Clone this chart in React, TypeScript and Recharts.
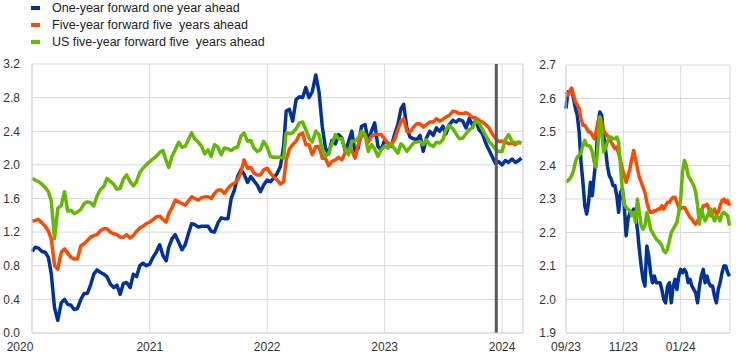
import React from 'react';
import { CartesianGrid, Line, LineChart, ReferenceLine, XAxis, YAxis } from 'recharts';

const DAY = 86400000;
const FONT = '"Liberation Sans", Arial, sans-serif';

// left panel: observations on the 1st, 11th and 21st of every month, Jan 2020 - Mar 2024
const leftDates: number[] = [];
for (let y = 2020; y <= 2024; y++) {
  for (let m = 0; m < 12; m++) {
    for (const d of [1, 11, 21]) {
      const t = Date.UTC(y, m, d);
      if (t <= Date.UTC(2024, 2, 1)) leftDates.push(t);
    }
  }
}

const oneYearLeft = [
  0.97, 1.02, 1.01, 0.97, 0.96, 0.9, 0.7, 0.3, 0.15, 0.36,
  0.4, 0.34, 0.33, 0.28, 0.29, 0.4, 0.47, 0.47, 0.57, 0.7,
  0.75, 0.72, 0.7, 0.67, 0.58, 0.54, 0.57, 0.46, 0.59, 0.6,
  0.54, 0.7, 0.67, 0.8, 0.83, 0.8, 0.82, 0.9, 0.96, 1.05,
  0.92, 0.86, 1.02, 1.12, 1.17, 1.08, 0.99, 1.05, 1.18, 1.3,
  1.29, 1.26, 1.27, 1.27, 1.27, 1.21, 1.2, 1.31, 1.37, 1.36,
  1.36, 1.6, 1.7, 1.86, 1.94, 1.89, 1.79, 1.86, 1.81, 1.76,
  1.68, 1.76, 1.82, 1.8, 1.84, 1.9, 1.98, 2.22, 2.64, 2.66,
  2.52, 2.78, 2.81, 2.8, 2.92, 2.8, 2.87, 3.07, 2.87, 2.46,
  2.2, 2.13, 2.29, 2.25, 2.36, 2.32, 2.16, 2.28, 2.4, 2.14,
  2.2, 2.46, 2.48, 2.28, 2.4, 2.5, 2.22, 2.18, 2.29, 2.26,
  2.22, 2.36, 2.48, 2.67, 2.72, 2.44, 2.33, 2.31, 2.3, 2.35,
  2.16, 2.32, 2.4, 2.35, 2.44, 2.4, 2.46, 2.37, 2.48, 2.53,
  2.51, 2.54, 2.52, 2.44, 2.55, 2.47, 2.53, 2.42, 2.37, 2.26,
  2.18, 2.1, 2.02, 2.04, 2.0, 2.05, 2.03, 2.07, 2.03, 2.05, 2.08,
];

const fiveYearLeft = [
  1.33, 1.34, 1.35, 1.31, 1.27, 1.21, 1.12, 0.8, 0.76, 0.96,
  1.0, 0.95, 0.9, 0.88, 0.88, 1.04, 1.06, 1.1, 1.14, 1.16,
  1.17, 1.22, 1.24, 1.24, 1.2, 1.18, 1.17, 1.14, 1.14, 1.17,
  1.13, 1.16, 1.21, 1.25, 1.27, 1.3, 1.32, 1.35, 1.38, 1.39,
  1.35, 1.32, 1.42, 1.49, 1.58, 1.56, 1.54, 1.52, 1.57, 1.62,
  1.6, 1.58, 1.61, 1.62, 1.62, 1.6, 1.66, 1.7, 1.7, 1.66,
  1.72, 1.76, 1.78, 1.82, 1.91, 2.06, 1.96, 1.97, 1.9, 1.88,
  1.88, 1.94, 1.96, 1.9, 1.86, 1.82, 1.77, 1.8, 2.06, 2.19,
  2.24, 2.28, 2.36, 2.38, 2.24, 2.24, 2.12, 2.22, 2.22, 2.08,
  2.08, 1.99, 2.04, 2.06, 2.09, 2.06, 2.15, 2.19, 2.17, 2.08,
  2.24, 2.34, 2.36, 2.27, 2.34, 2.36, 2.36, 2.36, 2.31, 2.25,
  2.24, 2.3, 2.42, 2.52, 2.55, 2.4, 2.39, 2.45, 2.49, 2.49,
  2.45, 2.48, 2.51, 2.51, 2.55, 2.52, 2.54, 2.57, 2.59, 2.64,
  2.63, 2.61, 2.61, 2.62, 2.6, 2.56, 2.56, 2.53, 2.51, 2.48,
  2.44, 2.37, 2.32, 2.28, 2.28, 2.28, 2.25, 2.26, 2.24, 2.27, 2.26,
];

const usFiveYearLeft = [
  1.84, 1.82, 1.8, 1.77, 1.73, 1.68, 1.57, 1.12, 1.48, 1.52,
  1.68, 1.45, 1.46, 1.42, 1.44, 1.47, 1.54, 1.56, 1.55, 1.51,
  1.63, 1.71, 1.74, 1.84, 1.8, 1.77, 1.71, 1.72, 1.83, 1.88,
  1.8, 1.75, 1.8, 1.91, 1.96, 2.0, 2.04, 2.07, 2.1, 2.15,
  2.17, 2.05, 1.97, 2.1, 2.18, 2.27, 2.21, 2.22, 2.3, 2.38,
  2.31, 2.27, 2.22, 2.13, 2.18, 2.1, 2.24, 2.21, 2.12, 2.2,
  2.19, 2.17, 2.2, 2.21, 2.34, 2.38, 2.28, 2.29, 2.2, 2.16,
  2.18, 2.28, 2.21, 2.1, 2.09, 2.09, 2.09, 2.08, 2.38, 2.37,
  2.38, 2.43, 2.5, 2.51, 2.42, 2.32, 2.27, 2.4, 2.36, 2.18,
  2.1, 2.14, 2.25, 2.36, 2.31, 2.31, 2.18, 2.12, 2.28, 2.28,
  2.32, 2.4, 2.36, 2.16, 2.24, 2.19, 2.1, 2.18, 2.22, 2.2,
  2.25, 2.19, 2.14, 2.25, 2.22, 2.16, 2.21, 2.26, 2.27, 2.28,
  2.24, 2.3, 2.24, 2.22, 2.27, 2.26, 2.3, 2.42, 2.47, 2.43,
  2.37, 2.31, 2.32, 2.37, 2.42, 2.44, 2.52, 2.5, 2.42, 2.35,
  2.28, 2.24, 2.19, 2.16, 2.16, 2.3, 2.36, 2.28, 2.26, 2.27, 2.26,
];

// right panel: every second day from 1 Sep 2023
const rightStart = Date.UTC(2023, 8, 1);
const rightDates = Array.from({ length: 88 }, (_, i) => rightStart + i * 2 * DAY);

const oneYearRight = [
  2.57, 2.62, 2.62, 2.63, 2.6, 2.57, 2.55, 2.5, 2.41, 2.35,
  2.28, 2.255, 2.29, 2.35, 2.31, 2.37, 2.42, 2.52, 2.56, 2.55,
  2.49, 2.45, 2.4, 2.37, 2.36, 2.34, 2.34, 2.31, 2.26, 2.32,
  2.33, 2.28, 2.19, 2.24, 2.26, 2.26, 2.27, 2.25, 2.21, 2.15,
  2.1, 2.06, 2.04, 2.16, 2.13, 2.08, 2.05, 2.07, 2.05, 2.05,
  2.05, 2.03, 2.0, 1.99, 2.04, 2.05, 1.99, 2.04, 2.06, 2.03,
  2.07, 2.09, 2.08, 2.09, 2.08, 2.05, 2.06, 2.04, 2.03, 2.02,
  1.99, 2.04, 2.07, 2.09, 2.05, 2.07, 2.05, 2.04, 2.04, 2.01,
  1.99, 2.03, 2.05, 2.08, 2.1, 2.1, 2.08, 2.07,
];

const fiveYearRight = [
  2.62, 2.61, 2.62, 2.63, 2.61, 2.59, 2.58, 2.57, 2.54, 2.52,
  2.52, 2.51, 2.5, 2.5, 2.49, 2.48, 2.5, 2.53, 2.545, 2.53,
  2.505, 2.495, 2.49, 2.48, 2.47, 2.46, 2.45, 2.455, 2.435, 2.415,
  2.39, 2.37, 2.35, 2.37, 2.39, 2.42, 2.445, 2.42, 2.39, 2.365,
  2.35, 2.335, 2.32, 2.29, 2.27, 2.26, 2.26, 2.265, 2.265, 2.27,
  2.27, 2.28, 2.27, 2.28, 2.29, 2.29, 2.3, 2.305, 2.305, 2.29,
  2.275, 2.27, 2.275, 2.275, 2.265, 2.255, 2.245, 2.24, 2.23, 2.225,
  2.235, 2.245, 2.26, 2.28, 2.28, 2.285, 2.27, 2.25, 2.26, 2.27,
  2.255, 2.26, 2.28, 2.295, 2.3, 2.29, 2.295, 2.28,
];

const usFiveYearRight = [
  2.35, 2.355, 2.36, 2.37, 2.385, 2.41, 2.425, 2.43, 2.44, 2.46,
  2.475, 2.46, 2.46, 2.455, 2.44, 2.41, 2.395, 2.46, 2.545, 2.5,
  2.44, 2.45, 2.47, 2.485, 2.485, 2.48, 2.48, 2.485, 2.47, 2.4,
  2.32, 2.285, 2.275, 2.27, 2.265, 2.25, 2.26, 2.23, 2.3, 2.26,
  2.22, 2.21, 2.22, 2.26, 2.24, 2.21, 2.2, 2.19, 2.18, 2.175,
  2.17, 2.16, 2.145, 2.14, 2.15, 2.175, 2.2, 2.21, 2.22, 2.23,
  2.26, 2.3, 2.38, 2.415, 2.4, 2.37, 2.36, 2.35, 2.34, 2.32,
  2.28, 2.225, 2.27, 2.25, 2.235, 2.245, 2.26, 2.27, 2.25, 2.235,
  2.25, 2.245, 2.235, 2.255, 2.26, 2.255, 2.25, 2.22,
];

const leftYTicks = [0, 0.4, 0.8, 1.2, 1.6, 2.0, 2.4, 2.8, 3.2];
const rightYTicks = [1.9, 2.0, 2.1, 2.2, 2.3, 2.4, 2.5, 2.6, 2.7];
const leftXTicks = [2020, 2021, 2022, 2023, 2024].map((y) => Date.UTC(y, 0, 1));
const rightXTicks = [Date.UTC(2023, 8, 1), Date.UTC(2023, 10, 1), Date.UTC(2024, 0, 1)];
const rightXLabels = ['09/23', '11/23', '01/24'];

const leftEnd = Date.UTC(2024, 2, 6);
const rightEnd = rightStart + 174.5 * DAY;
const decisionDate = Date.UTC(2023, 11, 14);

const series = [
  { key: 'oneYear', name: 'One-year forward one year ahead', color: '#003299' },
  { key: 'fiveYear', name: 'Five-year forward five  years ahead', color: '#ff4b00' },
  { key: 'usFiveYear', name: 'US five-year forward five  years ahead', color: '#65b800' },
];

const leftData = leftDates.map((t, i) => ({
  t,
  oneYear: oneYearLeft[i],
  fiveYear: fiveYearLeft[i],
  usFiveYear: usFiveYearLeft[i],
}));

const rightData = rightDates.map((t, i) => ({
  t,
  oneYear: oneYearRight[i],
  fiveYear: fiveYearRight[i],
  usFiveYear: usFiveYearRight[i],
}));

const GRID = '#d9d9d9';
const TEXT = '#333333';

const YearTick = ({ x, y, payload, index }: any) => (
  <text
    x={index === 0 ? x - 12 : x}
    y={y}
    dy="0.71em"
    textAnchor="middle"
    fill={TEXT}
    fontSize={12}
    fontFamily={FONT}>
    {new Date(payload.value).getUTCFullYear()}
  </text>
);

const Legend = () => (
  <div style={{ position: 'absolute', left: 0, top: 0 }}>
    {series.map((s, i) => (
      <div
        key={s.key}
        style={{
          position: 'absolute',
          left: 31,
          top: i * 17 - 0.5,
          height: 16,
          lineHeight: '16px',
          whiteSpace: 'pre',
          fontSize: 12.5,
          color: '#222',
        }}>
        <span
          style={{
            position: 'absolute',
            left: 0,
            top: 6,
            width: 9,
            height: 4,
            background: s.color,
          }}
        />
        <span style={{ position: 'absolute', left: 21, top: 0 }}>{s.name}</span>
      </div>
    ))}
  </div>
);

const lines = () =>
  series.map((s) => (
    <Line
      key={s.key}
      dataKey={s.key}
      stroke={s.color}
      strokeWidth={3.5}
      strokeLinejoin="round"
      dot={false}
      activeDot={false}
      type="linear"
      isAnimationActive={false}
    />
  ));

const App = () => (
  <div
    style={{
      position: 'absolute',
      left: 0,
      top: 0,
      width: 746,
      height: 358,
      background: '#fff',
      fontFamily: FONT,
    }}>
    <Legend />
    <div style={{ position: 'absolute', left: 0, top: 0 }}>
      <LineChart
        width={535}
        height={358}
        data={leftData}
        margin={{ top: 64, right: 12, left: 0, bottom: 0 }}>
        <CartesianGrid stroke={GRID} />
        <XAxis
          dataKey="t"
          type="number"
          domain={[leftXTicks[0], leftEnd]}
          ticks={leftXTicks}
          interval={0}
          height={25}
          tickLine={false}
          tickSize={6}
          tickMargin={3}
          axisLine={{ stroke: GRID }}
          tick={<YearTick />}
        />
        <YAxis
          type="number"
          domain={[0, 3.2]}
          ticks={leftYTicks}
          interval={0}
          width={32}
          tickLine={false}
          tickSize={6}
          tickMargin={6}
          axisLine={{ stroke: GRID }}
          tick={{ fill: TEXT, fontSize: 12, fontFamily: FONT }}
          tickFormatter={(v: number) => v.toFixed(1)}
        />
        <ReferenceLine x={leftEnd} stroke={GRID} />
        {lines()}
        <ReferenceLine x={decisionDate} stroke="#595959" strokeWidth={3} />
      </LineChart>
    </div>
    <div style={{ position: 'absolute', left: 526, top: 0 }}>
      <LineChart
        width={214}
        height={358}
        data={rightData}
        margin={{ top: 65, right: 10, left: 0, bottom: 0 }}>
        <CartesianGrid stroke={GRID} />
        <XAxis
          dataKey="t"
          type="number"
          domain={[rightStart, rightEnd]}
          ticks={rightXTicks}
          interval={0}
          height={25}
          tickLine={false}
          tickSize={6}
          tickMargin={3}
          axisLine={{ stroke: GRID }}
          tick={{ fill: TEXT, fontSize: 12, fontFamily: FONT }}
          tickFormatter={(v: number) => rightXLabels[rightXTicks.indexOf(v)] ?? ''}
        />
        <YAxis
          type="number"
          domain={[1.9, 2.7]}
          ticks={rightYTicks}
          interval={0}
          width={40}
          tickLine={false}
          tickSize={6}
          tickMargin={4}
          axisLine={{ stroke: GRID }}
          tick={{ fill: TEXT, fontSize: 12, fontFamily: FONT }}
          tickFormatter={(v: number) => v.toFixed(1)}
        />
        {lines()}
      </LineChart>
    </div>
  </div>
);

export default App;
